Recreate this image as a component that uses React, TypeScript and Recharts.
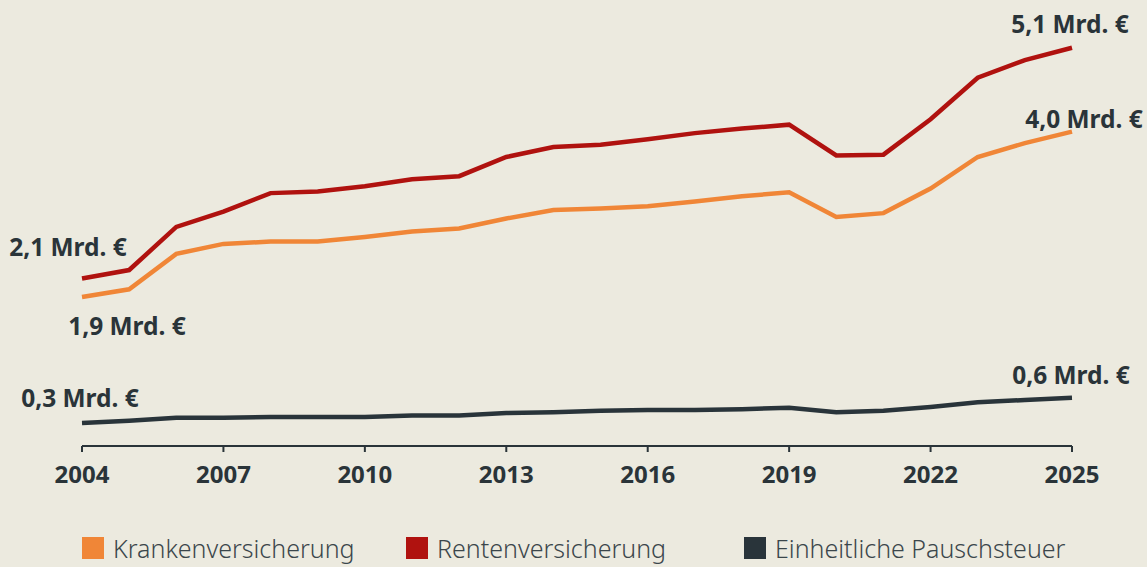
import { LineChart, Line, XAxis, YAxis, Legend } from 'recharts';

const years = [2004, 2005, 2006, 2007, 2008, 2009, 2010, 2011, 2012, 2013, 2014, 2015, 2016, 2017, 2018, 2019, 2020, 2021, 2022, 2023, 2024, 2025];
const kranken = [1.86, 1.96, 2.42, 2.55, 2.58, 2.58, 2.64, 2.71, 2.75, 2.88, 2.99, 3.01, 3.04, 3.1, 3.17, 3.22, 2.9, 2.95, 3.27, 3.68, 3.86, 4.01];
const renten = [2.1, 2.21, 2.77, 2.97, 3.21, 3.23, 3.3, 3.39, 3.43, 3.68, 3.81, 3.84, 3.91, 3.99, 4.05, 4.1, 3.7, 3.71, 4.17, 4.71, 4.94, 5.1];
const pausch = [0.22, 0.25, 0.29, 0.29, 0.3, 0.3, 0.3, 0.32, 0.32, 0.35, 0.36, 0.38, 0.39, 0.39, 0.4, 0.42, 0.36, 0.38, 0.43, 0.49, 0.52, 0.55];
const xTicks = [2004, 2007, 2010, 2013, 2016, 2019, 2022, 2025];

const seriesNames = ['Krankenversicherung', 'Rentenversicherung', 'Einheitliche Pauschsteuer'];
const seriesColors = ['#f08637', '#b0120f', '#29343a'];
const startLabels = ['1,9 Mrd. €', '2,1 Mrd. €', '0,3 Mrd. €'];
const endLabels = ['4,0 Mrd. €', '5,1 Mrd. €', '0,6 Mrd. €'];

// label offsets relative to the first / last point of each line
const startOffsets = [
  [45, 29],
  [-14, -32],
  [-2, -26],
];
const endOffsets = [
  [12, -13],
  [-2, -24],
  [-1, -23],
];

const keys = ['kranken', 'renten', 'pausch'];
const data = years.map((year, i) => ({
  year,
  kranken: kranken[i],
  renten: renten[i],
  pausch: pausch[i],
}));

const TEXT = '#2a3439';
const FONT = '"Noto Sans", "Open Sans", sans-serif';

function makeLabel(s: number) {
  return (props: any) => {
    const { x, y, index } = props;
    let text = '';
    let off = [0, 0];
    if (index === 0) {
      text = startLabels[s];
      off = startOffsets[s];
    } else if (index === years.length - 1) {
      text = endLabels[s];
      off = endOffsets[s];
    } else {
      return null;
    }
    return (
      <text
        x={x + off[0]}
        y={y + off[1]}
        textAnchor="middle"
        dominantBaseline="central"
        fill={TEXT}
        fontSize={24.5}
        fontWeight={700}
        fontFamily={FONT}
      >
        {text}
      </text>
    );
  };
}

function ChartLegend() {
  const items = [
    { x: 82, i: 0 },
    { x: 406, i: 1 },
    { x: 744, i: 2 },
  ];
  return (
    <div style={{ position: 'relative', height: 30 }}>
      {items.map(({ x, i }) => (
        <div key={i} style={{ position: 'absolute', left: x, top: 0, display: 'flex', alignItems: 'center' }}>
          <span style={{ width: 22, height: 22, background: seriesColors[i], display: 'inline-block' }} />
          <span
            style={{
              marginLeft: 9,
              fontSize: 25,
              fontWeight: 300,
              color: '#3b464b',
              fontFamily: FONT,
              whiteSpace: 'nowrap',
              lineHeight: '22px',
            }}
          >
            {seriesNames[i]}
          </span>
        </div>
      ))}
    </div>
  );
}

export default function App() {
  return (
    <div
      style={{
        position: 'fixed',
        left: 0,
        top: 0,
        width: 1147,
        height: 567,
        background: '#eceadf',
        overflow: 'hidden',
      }}
    >
      <LineChart width={1147} height={567} data={data} margin={{ top: 17, right: 75, bottom: 0, left: 82 }}>
        <XAxis
          dataKey="year"
          type="number"
          domain={[2004, 2025]}
          ticks={xTicks}
          interval={0}
          stroke={TEXT}
          strokeWidth={2}
          tickSize={6}
          tickMargin={14}
          tick={{ fill: TEXT, fontSize: 24, fontWeight: 700, fontFamily: FONT }}
          height={91}
        />
        <YAxis hide domain={[-0.078, 5.5]} />
        <Legend
          verticalAlign="bottom"
          wrapperStyle={{ left: 0, bottom: 0, width: 1147 }}
          content={() => <ChartLegend />}
        />
        {keys.map((k, s) => (
          <Line
            key={k}
            type="linear"
            dataKey={k}
            name={seriesNames[s]}
            stroke={seriesColors[s]}
            strokeWidth={4.5}
            dot={false}
            activeDot={false}
            label={makeLabel(s)}
            isAnimationActive={false}
          />
        ))}
      </LineChart>
    </div>
  );
}
